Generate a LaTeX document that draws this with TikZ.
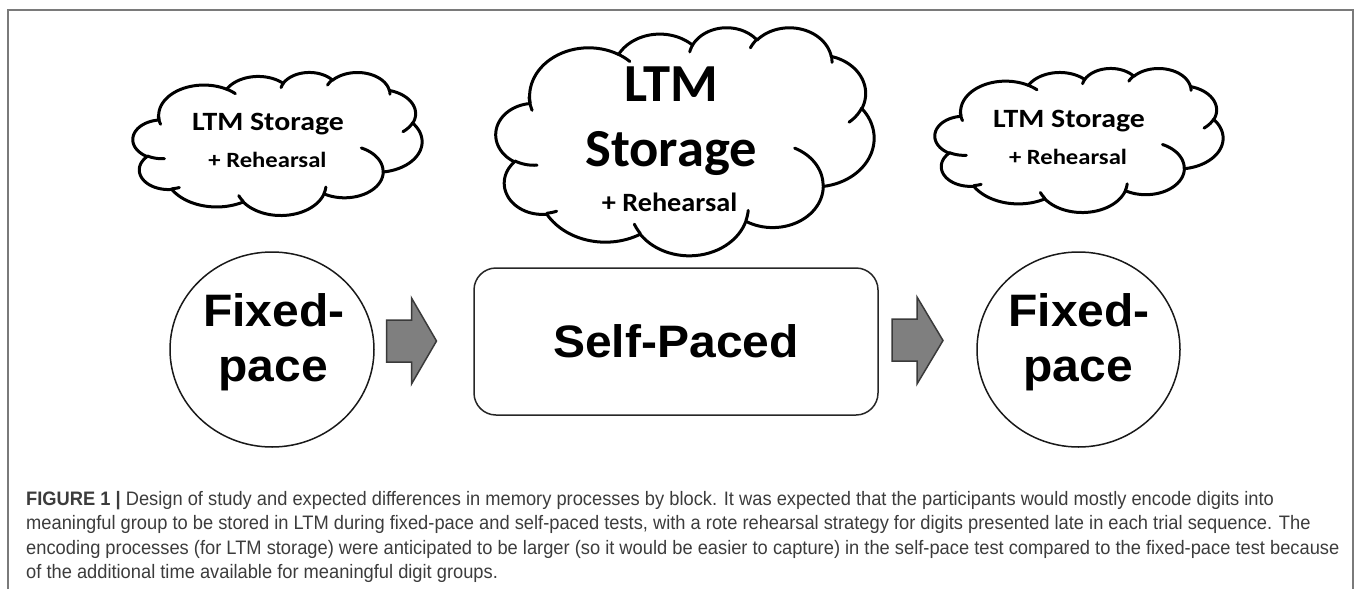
\documentclass[tikz,border=0pt]{standalone}
\usepackage{fontspec}
\setmainfont{Liberation Sans}
\newfontfamily\calibwide[FakeStretch=1.13]{Carlito}
\newfontfamily\calibmid[FakeStretch=1.02]{Carlito}
\newfontfamily\calibplus[FakeStretch=1.07]{Carlito}
\newfontfamily\pacefont[FakeStretch=1.055]{Liberation Sans}
\newfontfamily\capfont[FakeStretch=0.938]{Liberation Sans}
\definecolor{frame}{HTML}{7A7A7A}
\definecolor{arrowfill}{HTML}{7F7F7F}
\definecolor{arrowline}{HTML}{3A3A3A}
\definecolor{captext}{HTML}{3C3C3C}

% Office-style cloud arc helper: wR hR stAng swAng (degrees, path units /100)
\newcommand\ocarc[4]{%
 \pgfmathsetmacro\ocA{atan2((#1)*sin(#3),(#2)*cos(#3))}%
 \pgfmathsetmacro\ocB{atan2((#1)*sin((#3)+(#4)),(#2)*cos((#3)+(#4)))}%
 \pgfmathsetmacro\ocD{\ocB-\ocA}%
 \pgfmathsetmacro\ocD{((#4)>0)*(\ocD<0)*360-((#4)<0)*(\ocD>0)*360+\ocD}%
 \pgfmathsetmacro\occx{\ocx-(#1)*cos(\ocA)}%
 \pgfmathsetmacro\occy{\ocy-(#2)*sin(\ocA)}%
 \draw[cloudline] plot[domain=0:1,samples=30,variable=\u] ({\occx+(#1)*cos(\ocA+\ocD*\u)},{\occy+(#2)*sin(\ocA+\ocD*\u)});%
 \pgfmathsetmacro\ocx{\occx+(#1)*cos(\ocA+\ocD)}%
 \pgfmathsetmacro\ocy{\occy+(#2)*sin(\ocA+\ocD)}%
}
\newcommand\ocmove[2]{\def\ocx{#1}\def\ocy{#2}}
\newcommand\officecloud{%
 \ocmove{39.00}{143.70}%
 \ocarc{67.53}{91.90}{-190.487}{123.781}%
 \ocarc{53.33}{72.67}{-144.102}{89.945}%
 \ocarc{43.65}{59.45}{-145.808}{99.723}%
 \ocarc{48.57}{65.95}{-130.986}{117.242}%
 \ocarc{53.33}{72.73}{-78.709}{109.027}%
 \ocarc{67.75}{92.20}{-46.267}{130.269}%
 \ocarc{57.85}{78.67}{0.625}{114.033}%
 \ocarc{67.52}{92.15}{22.452}{115.173}%
 \ocarc{77.20}{105.43}{66.243}{75.711}%
 \ocarc{43.60}{59.18}{-274.942}{146.736}%
 \ocarc{43.45}{59.45}{-246.829}{152.519}%
 \ocmove{46.93}{261.77}\ocarc{43.45}{59.45}{86.742}{26.430}%
 \ocmove{69.28}{348.99}\ocarc{43.60}{59.18}{73.610}{11.447}%
 \ocmove{164.78}{390.90}\ocarc{67.52}{92.15}{137.624}{14.081}%
 \ocmove{288.27}{347.51}\ocarc{67.52}{92.15}{6.453}{15.998}%
 \ocmove{341.29}{229.54}\ocarc{57.85}{78.67}{-70.292}{70.917}%
 \ocmove{417.98}{153.54}\ocarc{53.33}{72.73}{30.318}{27.752}%
 \ocmove{383.24}{54.26}\ocarc{48.57}{65.95}{-13.744}{14.859}%
 \ocmove{290.78}{39.52}\ocarc{48.57}{65.95}{-149.181}{18.195}%
 \ocmove{221.41}{47.20}\ocarc{43.65}{59.45}{-163.494}{17.686}%
 \ocmove{140.00}{51.92}\ocarc{67.53}{91.90}{-66.707}{12.319}%
 \ocmove{41.27}{157.89}\ocarc{67.53}{91.90}{155.638}{21.503}%
}

\begin{document}
\begin{tikzpicture}[x=1pt,y=-1pt,
  cloudline/.style={line width=3pt,line cap=round,line join=round,black},
  cloudtxt/.style={anchor=base, inner sep=0pt, text=black},
  pacetxt/.style={font=\pacefont\bfseries\fontsize{45.5}{46}\selectfont, anchor=base, inner sep=0pt},
  captxt/.style={anchor=base west, inner sep=0pt, text=captext, font=\capfont\fontsize{19.5}{24}\selectfont},
  blockarrow/.style={fill=arrowfill, draw=arrowline, line width=1.5pt, line join=miter}]
\useasboundingbox (0,0) rectangle (1357,589);
% frame
\draw[frame, line width=1.3pt] (8,589) -- (8,10) -- (1353,10) -- (1353,589);

% clouds
\begin{scope}[shift={(133,72)}, x=289pt/432, y=-143pt/432]\officecloud\end{scope}
\begin{scope}[shift={(496,27)}, x=378pt/432, y=-228pt/432]\officecloud\end{scope}
\begin{scope}[shift={(935,68)}, x=288pt/432, y=-144pt/432]\officecloud\end{scope}

\node[cloudtxt, font=\calibwide\bfseries\fontsize{26.4}{27}\selectfont] (l1) at (268,130.5) {LTM Storage};
\node[cloudtxt, font=\calibwide\bfseries\fontsize{21.8}{22}\selectfont] (l2) at (267.5,167.5) {+ Rehearsal};
\node[cloudtxt, font=\calibmid\bfseries\fontsize{53.5}{54}\selectfont] (m1) at (671.5,101.7) {LTM};
\node[cloudtxt, font=\calibmid\bfseries\fontsize{53.5}{54}\selectfont] (m2) at (671,166.7) {Storage};
\node[cloudtxt, font=\calibplus\bfseries\fontsize{26.4}{27}\selectfont] (m3) at (669.5,211.5) {+ Rehearsal};
\node[cloudtxt, font=\calibwide\bfseries\fontsize{26.4}{27}\selectfont] (r1) at (1069,127.5) {LTM Storage};
\node[cloudtxt, font=\calibwide\bfseries\fontsize{21.8}{22}\selectfont] (r2) at (1068,164.5) {+ Rehearsal};

% left fixed-pace
\draw[draw=black!90, line width=1.5pt] (272,349.5) ellipse [x radius=102, y radius=97.5];
\node[pacetxt] (f1) at (274,326.7) {Fixed-};
\node[pacetxt] (p1) at (273,381.7) {pace};

% self-paced box
\draw[draw=black!85, line width=1.5pt, rounded corners=22pt] (474,268) rectangle (878,415);
\node[pacetxt] (sp) at (676,357.7) {Self-Paced};

% right fixed-pace
\draw[draw=black!90, line width=1.5pt] (1078.5,349.5) ellipse [x radius=101.5, y radius=97.5];
\node[pacetxt] (f2) at (1079,326.7) {Fixed-};
\node[pacetxt] (p2) at (1078,381.7) {pace};

% block arrows
\draw[blockarrow] (386.5,320) -- (411.5,320) -- (411.5,298) -- (436.5,341) -- (411.5,384) -- (411.5,362) -- (386.5,362) -- cycle;
\draw[blockarrow] (892,319) -- (917,319) -- (917,297) -- (943,340.5) -- (917,384) -- (917,361) -- (892,361) -- cycle;

% caption
\node[captxt] (cap1) at (26,505)
 {\textbf{FIGURE 1 |} Design of study and expected differences in memory processes by block. It was expected that the participants would mostly encode digits into};
\node[captxt] (cap2) at (26,529.5)
 {meaningful group to be stored in LTM during fixed-pace and self-paced tests, with a rote rehearsal strategy for digits presented late in each trial sequence. The};
\node[captxt] (cap3) at (26,554)
 {encoding processes (for LTM storage) were anticipated to be larger (so it would be easier to capture) in the self-pace test compared to the fixed-pace test because};
\node[captxt] (cap4) at (26,578.5)
 {of the additional time available for meaningful digit groups.};
\end{tikzpicture}
\end{document}
